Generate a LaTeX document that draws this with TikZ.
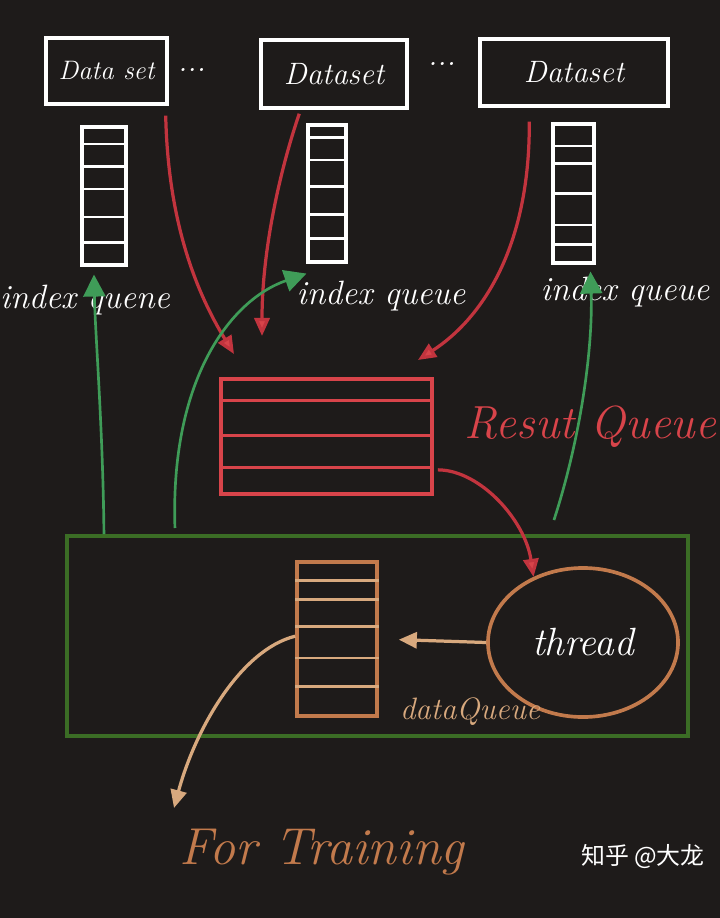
\documentclass[tikz,border=0pt]{standalone}
\usepackage{fontspec}
\usepackage{tikz}
\usetikzlibrary{arrows.meta,positioning,calc,shapes.geometric}
\newfontfamily\cjk{Noto Sans CJK SC}
\definecolor{bgdark}{HTML}{1E1B1A}
\definecolor{cred}{HTML}{D8444A}
\definecolor{cdred}{HTML}{C2343E}
\definecolor{cgreen}{HTML}{3F9C58}
\definecolor{cbox}{HTML}{3B6D25}
\definecolor{corange}{HTML}{C27A4C}
\definecolor{clight}{HTML}{D8A97E}
\newcommand{\hand}[1]{\fontsize{#1}{#1}\selectfont\itshape}
\tikzset{
  dsbox/.style  = {draw=white, line width=2.4pt, text=white, inner sep=0pt, font=\hand{22}},
  stack/.style  = {draw=white, line width=2.2pt, inner sep=0pt},
  slot/.style   = {white, line width=1.7pt},
  lbl/.style    = {text=white, font=\hand{24}},
  redar/.style  = {cdred, line width=2.3pt, -{Triangle[length=4.5mm,width=3.8mm,fill=cred]}},
  greenar/.style= {cgreen, line width=1.9pt, -{Triangle[length=5.5mm,width=5.5mm]}},
  orar/.style   = {clight, line width=2.3pt, -{Triangle[length=4.5mm,width=4mm]}},
}

\begin{document}
\begin{tikzpicture}[x=0.025cm,y=-0.025cm]
  \fill[bgdark] (0,0) rectangle (720,918);
  \useasboundingbox (0,0) rectangle (720,918);

  % datasets on top
  \node[dsbox, minimum width=3.025cm, minimum height=1.65cm, font=\hand{19}] (ds1) at (106.5,71) {Data set};
  \node[dsbox, minimum width=3.65cm, minimum height=1.7cm] (ds2) at (334,74) {Dataset};
  \node[dsbox, minimum width=4.7cm, minimum height=1.675cm] (ds3) at (574,72.5) {Dataset};
  \node[text=white, font=\hand{22}] (dots1) at (192,70) {...};
  \node[text=white, font=\hand{22}] (dots2) at (442,64) {...};

  % index queues
  \node[stack, minimum width=1.1cm, minimum height=3.45cm] (s1) at (104,196) {};
  \node[stack, minimum width=0.95cm, minimum height=3.425cm] (s2) at (327,193.5) {};
  \node[stack, minimum width=1.025cm, minimum height=3.475cm] (s3) at (573.5,193.5) {};
  \foreach \f in {0.13,0.29,0.45,0.65,0.83}
    \draw[slot] ($(s1.north west)!\f!(s1.south west)$) -- ($(s1.north east)!\f!(s1.south east)$);
  \foreach \f in {0.10,0.26,0.45,0.65,0.82}
    \draw[slot] ($(s2.north west)!\f!(s2.south west)$) -- ($(s2.north east)!\f!(s2.south east)$);
  \foreach \f in {0.165,0.29,0.50,0.72,0.86}
    \draw[slot] ($(s3.north west)!\f!(s3.south west)$) -- ($(s3.north east)!\f!(s3.south east)$);
  \node[lbl] (iq1) at (85,300) {index quene};
  \node[lbl] (iq2) at (381,296) {index queue};
  \node[lbl] (iq3) at (625,292) {index queue};

  % result queue
  \node[draw=cred, line width=2.6pt, minimum width=5.275cm, minimum height=2.875cm, inner sep=0pt] (rq) at (326.5,436.5) {};
  \foreach \f in {0.20,0.49,0.76}
    \draw[cred, line width=2.2pt] ($(rq.north west)!\f!(rq.south west)$) -- ($(rq.north east)!\f!(rq.south east)$);
  \node[text=cred, font=\hand{33}, anchor=west] (rqlbl) at (460,427) {Resut Queue};

  % main process
  \node[draw=cbox, line width=2.8pt, minimum width=15.525cm, minimum height=5cm, inner sep=0pt] (gb) at (377.5,636) {};
  \node[draw=corange, line width=2.6pt, minimum width=2cm, minimum height=3.85cm, inner sep=0pt] (dq) at (337,639) {};
  \foreach \f in {0.13,0.25,0.42,0.62,0.80}
    \draw[clight, line width=2pt] ($(dq.north west)!\f!(dq.south west)$) -- ($(dq.north east)!\f!(dq.south east)$);
  \node[ellipse, draw=corange, line width=2.6pt, minimum width=4.75cm, minimum height=3.725cm, inner sep=0pt,
        text=white, font=\hand{28}] (th) at (583,642.5) {thread};
  \node[text=clight, font=\hand{22}] (dql) at (470,712) {dataQueue};

  \coordinate (r1) at (234,354);
  \coordinate (r2) at (262,336);
  \coordinate (r3) at (418,360);
  \coordinate (ftip) at (174,808);

  % red: datasets -> result queue -> thread
  \draw[redar] ([shift={(-3,10)}]ds1.south east) .. controls (168,220) and (195,290) .. (r1);
  \draw[redar] ([shift={(40,4)}]ds2.south west) .. controls (280,170) and (262,250) .. (r2);
  \draw[redar] ([shift={(51,14)}]ds3.south west) .. controls (530,250) and (480,320) .. (r3);
  \draw[redar] ([shift={(4,-26)}]rq.south east) .. controls (480,470) and (525,520) .. (th.127);

  % green: process -> index queues
  \draw[greenar] ([shift={(39,0)}]gb.north west) .. controls (103,430) and (95,330) .. ([shift={(-10,8)}]s1.south);
  \draw[greenar] ([shift={(110,-6)}]gb.north west) .. controls (170,380) and (230,300) .. ([shift={(0,10)}]s2.south west);
  \draw[greenar] ([shift={(489,-14)}]gb.north west) .. controls (580,440) and (593,350) .. ([shift={(17,7)}]s3.south);

  % orange: thread -> dataQueue -> training
  \draw[orar, shorten >=5mm] (th.west) -- (dq.east);
  \draw[orar] ([yshift=2]dq.west) .. controls (240,650) and (195,730) .. (ftip);
  \node[text=corange, font=\hand{37}] (ft) at (322,852) {For Training};

  \node[text=white, font=\cjk\fontsize{17}{17}\selectfont] (wm) at (643,857) {知乎 @大龙};
\end{tikzpicture}
\end{document}
